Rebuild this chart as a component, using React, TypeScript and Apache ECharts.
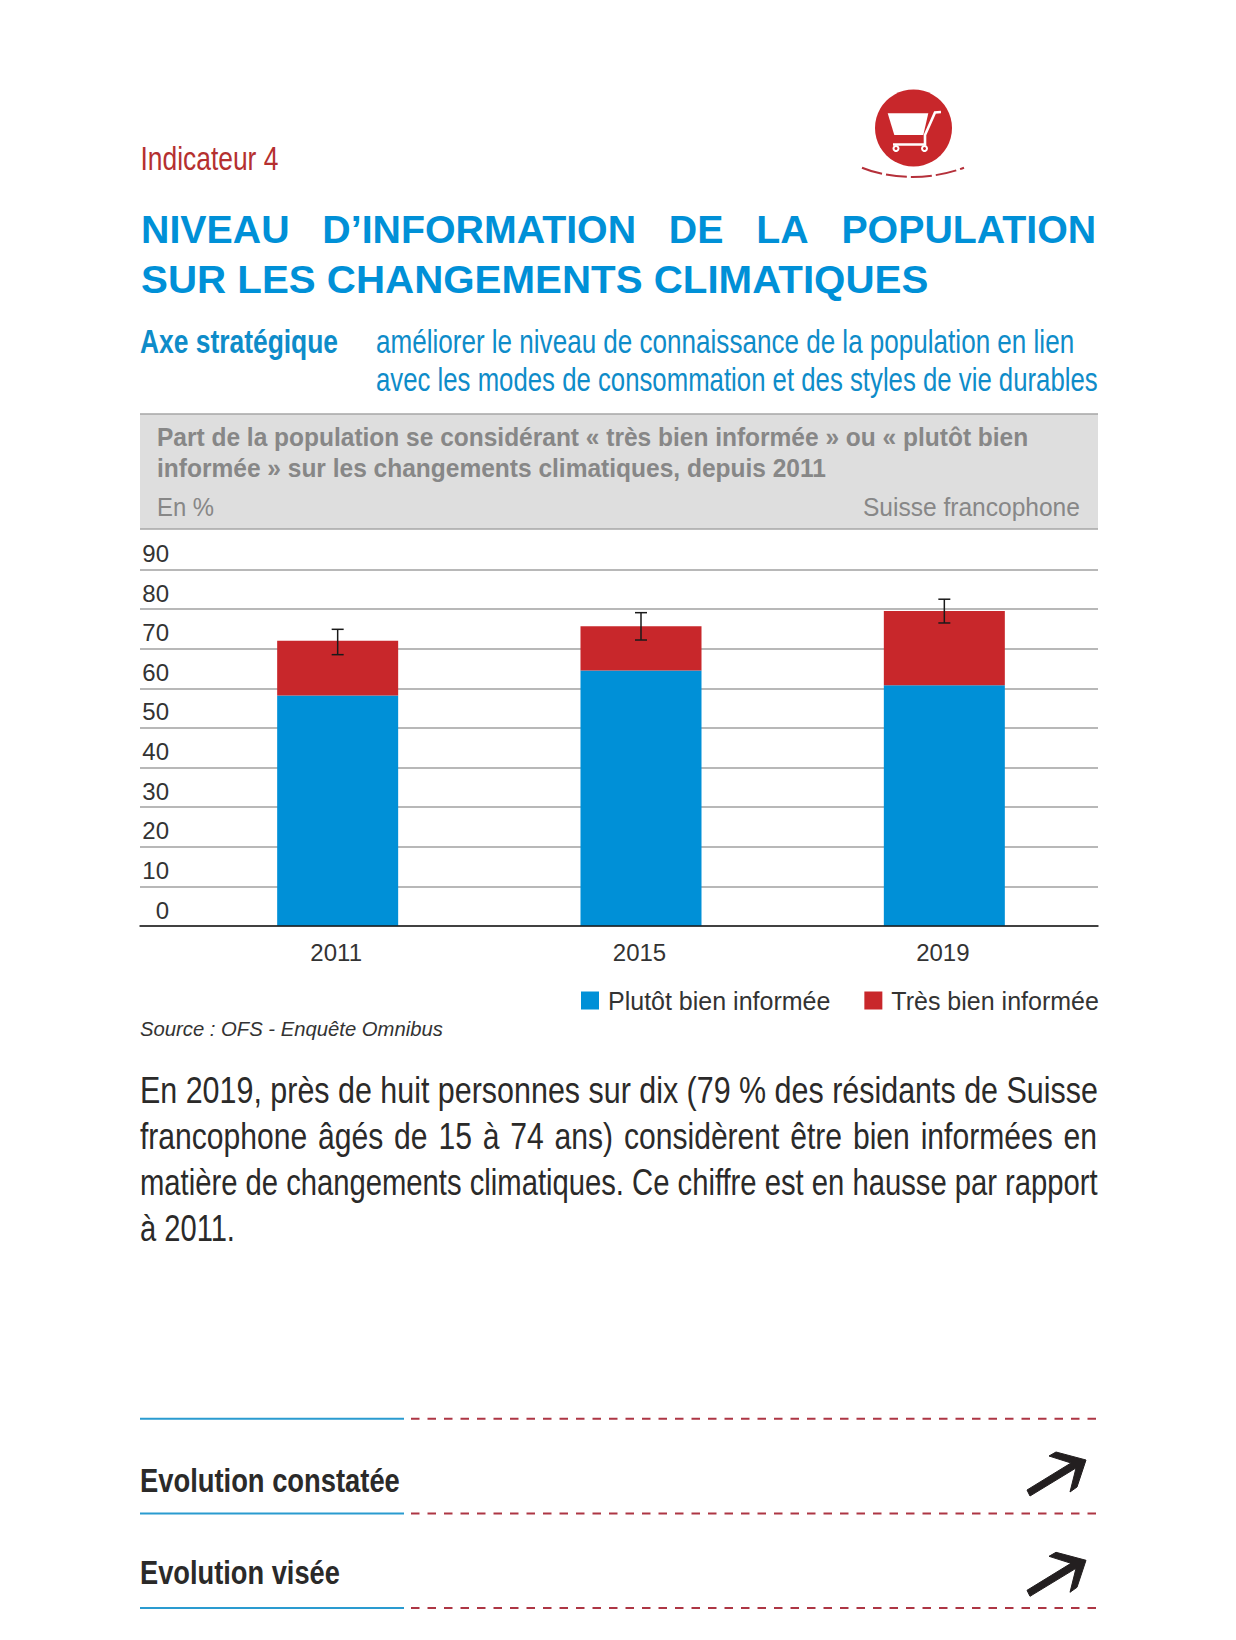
import React, { useEffect, useRef } from "react";
import * as echarts from "echarts";

const years = ["2011", "2015", "2019"];
const plutot = [58.2, 64.5, 60.8];
const tres = [13.8, 11.2, 18.7];
const errLow = [68.5, 72.2, 76.5];
const errHigh = [74.9, 79.1, 82.5];
const yTicks = { min: 0, max: 90, step: 10 };

const BLUE = "#0090D7";
const RED = "#C8272B";
const SANS = "'Liberation Sans', Arial, sans-serif";
const NARROW = "'Liberation Sans Narrow', 'Liberation Sans', sans-serif";

const measureCtx = document.createElement("canvas").getContext("2d")!;

function fit(text: string, x: number, y: number, width: number, font: string, fill: string, align = "left") {
  measureCtx.font = font;
  const natural = measureCtx.measureText(text).width;
  return {
    type: "text",
    x,
    y,
    scaleX: width / natural,
    silent: true,
    style: { text, font, fill, textAlign: align, textVerticalAlign: "middle" },
  };
}

const NB = "\u00A0";
const gap = (n: number) => NB.repeat(n);

const arrowPts = [
  [207, 90], [251, 63], [229, 56], [236, 52], [266, 60], [257, 87], [250, 92], [256, 68], [210, 96],
];

function arrow(dy: number) {
  return {
    type: "polygon",
    x: 820,
    y: 1400 + dy,
    silent: true,
    shape: { points: arrowPts },
    style: { fill: "#231F20", stroke: "#231F20", lineWidth: 1 },
  };
}

function rules(y: number) {
  return [
    { type: "line", silent: true, shape: { x1: 140, y1: y, x2: 404, y2: y }, style: { stroke: "#2A9BD0", lineWidth: 2 } },
    { type: "line", silent: true, shape: { x1: 411, y1: y, x2: 1098, y2: y }, style: { stroke: "#AD3644", lineWidth: 2, lineDash: [8.5, 8] } },
  ];
}

const graphics: any[] = [
  fit("Indicateur 4", 140.5, 158, 138, `33px ${NARROW}`, "#B5302F"),
  { type: "circle", silent: true, shape: { cx: 913.5, cy: 128, r: 38.5 }, style: { fill: RED } },
  { type: "polygon", silent: true, shape: { points: [[887.7, 113.3], [928.3, 113.3], [923.3, 135], [894.3, 135]] }, style: { fill: "#fff" } },
  { type: "polyline", silent: true, shape: { points: [[941, 112], [935, 112.5], [925, 135], [925, 144.5], [893, 144.5]] }, style: { stroke: "#fff", lineWidth: 2.6, fill: "none" } },
  { type: "circle", silent: true, shape: { cx: 896, cy: 148.5, r: 2.5 }, style: { fill: RED, stroke: "#fff", lineWidth: 2 } },
  { type: "circle", silent: true, shape: { cx: 924.5, cy: 148.5, r: 2.5 }, style: { fill: RED, stroke: "#fff", lineWidth: 2 } },
  { type: "bezierCurve", silent: true, shape: { x1: 862, y1: 167.7, cpx1: 892, cpy1: 180, cpx2: 932, cpy2: 180, x2: 964, y2: 167.7 }, style: { stroke: "#B5303A", lineWidth: 2, fill: "none", lineDash: [21, 4] } },

  fit(`NIVEAU${gap(3)}D’INFORMATION${gap(3)}DE${gap(3)}LA${gap(3)}POPULATION`, 141, 230, 956, `bold 38px ${SANS}`, BLUE),
  fit("SUR LES CHANGEMENTS CLIMATIQUES", 141, 280, 788, `bold 38px ${SANS}`, BLUE),

  fit("Axe stratégique", 140, 341.5, 198, `bold 33px ${NARROW}`, "#0E8CC9"),
  fit("améliorer le niveau de connaissance de la population en lien", 376, 341.5, 699, `33px ${NARROW}`, "#0E8CC9"),
  fit("avec les modes de consommation et des styles de vie durables", 376, 379, 722, `33px ${NARROW}`, "#0E8CC9"),

  { type: "rect", silent: true, z: -1, shape: { x: 140, y: 414, width: 958, height: 115 }, style: { fill: "#DEDEDE" } },
  { type: "line", silent: true, shape: { x1: 140, y1: 414, x2: 1098, y2: 414 }, style: { stroke: "#A6A6A6", lineWidth: 1.5 } },
  { type: "line", silent: true, shape: { x1: 140, y1: 529, x2: 1098, y2: 529 }, style: { stroke: "#A6A6A6", lineWidth: 1.5 } },
  fit("Part de la population se considérant « très bien informée » ou « plutôt bien", 157, 437, 871, `bold 25px ${SANS}`, "#878787"),
  fit("informée » sur les changements climatiques, depuis 2011", 157, 468, 669, `bold 25px ${SANS}`, "#878787"),
  fit("En %", 157, 507, 57, `25px ${SANS}`, "#878787"),
  fit("Suisse francophone", 863, 507, 217, `25px ${SANS}`, "#878787"),

  fit("Source : OFS - Enquête Omnibus", 140, 1029, 303, `italic 20px ${SANS}`, "#333"),

  fit("En 2019, près de huit personnes sur dix (79 % des résidants de Suisse", 140, 1090, 958, `37px ${NARROW}`, "#2B2A29"),
  fit("francophone âgés de 15 à 74 ans) considèrent être bien informées en".replace(/ /g, " \u200A"), 140, 1136, 958, `37px ${NARROW}`, "#2B2A29"),
  fit("matière de changements climatiques. Ce chiffre est en hausse par rapport", 140, 1182.3, 958, `37px ${NARROW}`, "#2B2A29"),
  fit("à 2011.", 140, 1228.5, 95, `37px ${NARROW}`, "#2B2A29"),

  ...rules(1418.7),
  fit("Evolution constatée", 140, 1481, 260, `bold 33px ${NARROW}`, "#2B2A29"),
  arrow(0),
  ...rules(1513.5),
  fit("Evolution visée", 140, 1573, 200, `bold 33px ${NARROW}`, "#2B2A29"),
  arrow(100.3),
  ...rules(1608),
];

export default function App() {
  const ref = useRef<HTMLDivElement>(null);
  useEffect(() => {
    const chart = echarts.init(ref.current!, undefined, { renderer: "svg" });
    const yBase = { type: "value", min: yTicks.min, max: yTicks.max, interval: yTicks.step };
    chart.setOption({
      animation: false,
      backgroundColor: "#fff",
      textStyle: { fontFamily: SANS },
      grid: [
        { left: 140, width: 958, top: 569.5, height: 356.5 },
        { left: 186, width: 910, top: 569.5, height: 356.5 },
      ],
      xAxis: [
        {
          gridIndex: 0, type: "value", min: 0, max: 1, z: 5,
          axisLine: { show: true, lineStyle: { color: "#1a1a1a", width: 1.5 } },
          axisTick: { show: false }, axisLabel: { show: false }, splitLine: { show: false },
        },
        {
          gridIndex: 1, type: "category", data: years,
          axisLine: { show: false }, axisTick: { show: false },
          axisLabel: { color: "#333", fontSize: 24, margin: 14, padding: [0, 3, 0, 0] },
        },
      ],
      yAxis: [
        {
          ...yBase, gridIndex: 0,
          axisLine: { show: false }, axisTick: { show: false },
          splitLine: { show: true, lineStyle: { color: "#A0A0A0", width: 1.5 } },
          axisLabel: {
            inside: true, align: "right", verticalAlign: "bottom", margin: 29,
            color: "#333", fontSize: 24, padding: [0, 0, 4, 0], showMinLabel: true, showMaxLabel: true,
          },
        },
        { ...yBase, gridIndex: 1, show: false },
      ],
      legend: {
        left: 581, top: 988, padding: 0, itemWidth: 18, itemHeight: 18, itemGap: 34,
        icon: "rect", data: ["Plutôt bien informée", "Très bien informée"],
        selectedMode: false,
        textStyle: { color: "#333", fontSize: 25, padding: [0, 0, 0, 4] },
      },
      graphic: { elements: graphics },
      series: [
        {
          name: "Plutôt bien informée", type: "bar", stack: "t", xAxisIndex: 1, yAxisIndex: 1,
          barWidth: 121, data: plutot, itemStyle: { color: BLUE },
        },
        {
          name: "Très bien informée", type: "bar", stack: "t", xAxisIndex: 1, yAxisIndex: 1,
          barWidth: 121, data: tres, itemStyle: { color: RED },
        },
        {
          name: "Marge d'erreur", type: "custom", xAxisIndex: 1, yAxisIndex: 1, z: 6,
          data: years.map((_, i) => [i, errLow[i], errHigh[i]]),
          encode: { x: 0, y: [1, 2] },
          renderItem: (_p: any, api: any) => {
            const [x, yl] = api.coord([api.value(0), api.value(1)]);
            const [, yh] = api.coord([api.value(0), api.value(2)]);
            const style = { stroke: "#1a1a1a", lineWidth: 1.5 };
            const cap = 6;
            return {
              type: "group",
              children: [
                { type: "line", shape: { x1: x, y1: yl, x2: x, y2: yh }, style },
                { type: "line", shape: { x1: x - cap, y1: yl, x2: x + cap, y2: yl }, style },
                { type: "line", shape: { x1: x - cap, y1: yh, x2: x + cap, y2: yh }, style },
              ],
            };
          },
        },
      ],
    });
    return () => chart.dispose();
  }, []);
  return <div ref={ref} style={{ position: "absolute", left: 0, top: 0, width: 1236, height: 1640 }} />;
}
